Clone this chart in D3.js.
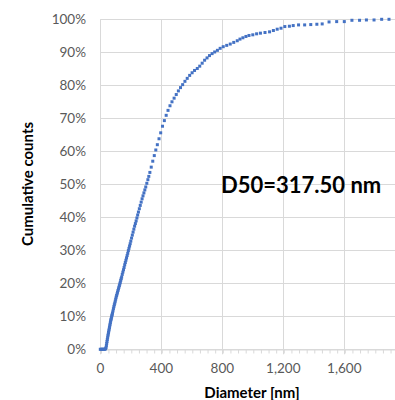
<!DOCTYPE html>
<html>
<head>
<meta charset="utf-8">
<script src="https://cdn.jsdelivr.net/npm/d3@7.9.0/dist/d3.min.js"></script>
<style>
  body { margin: 0; background: #fff; }
  svg { display: block; }
  text { font-family: Lato, "Liberation Sans", sans-serif; }
</style>
</head>
<body>
<svg id="chart" width="395" height="400"></svg>
<script>
// diameter [nm] and cumulative share [%]
const diameters = [
  0, 5, 10, 15, 20, 25, 30, 35, 38, 40, 42, 44, 46, 48, 50, 52, 54, 56, 58, 60,
  62, 64, 66, 68, 70, 72, 74, 76, 78, 80, 83, 86, 89, 92, 95, 98, 101, 104, 107, 110,
  113, 116, 119, 122, 125, 128, 131, 134, 137, 140, 144, 148, 152, 156, 160, 164, 168, 172, 176, 180,
  184, 188, 192, 196, 200, 205, 210, 215, 220, 225, 230, 235, 240, 245, 250, 256, 262, 268, 274, 280,
  286, 292, 298, 305, 312, 318, 325, 334, 344, 354, 364, 374, 385, 396, 408, 420, 432,
  444, 457, 470, 484, 498, 512, 526, 540, 555, 570, 586, 602, 618, 636, 652, 668, 684,
  700, 716, 733, 750, 768, 786, 806, 829, 852, 875, 898, 916, 935, 955, 975, 1000, 1025, 1050, 1080, 1110,
  1135, 1160, 1185, 1210, 1240, 1265, 1300, 1340, 1380, 1420, 1455, 1500, 1550, 1600, 1650, 1700, 1745, 1795, 1845, 1893
];
const cumulative = [
  0, 0, 0, 0, 0, 0, 0, 0.2, 0.6, 1.2, 1.8, 2.4, 3.0, 3.5, 4.1, 4.6, 5.1, 5.6, 6.1, 6.6,
  7.1, 7.6, 8.1, 8.6, 9.0, 9.4, 9.8, 10.2, 10.6, 11.0, 11.6, 12.3, 12.9, 13.5, 14.0, 14.6, 15.2, 15.8, 16.3, 16.8,
  17.3, 17.8, 18.3, 18.8, 19.3, 19.8, 20.3, 20.9, 21.4, 21.9, 22.7, 23.4, 24.1, 24.8, 25.6, 26.3, 27.0, 27.7, 28.4, 29.1,
  29.9, 30.6, 31.3, 32.0, 32.8, 33.7, 34.6, 35.5, 36.4, 37.3, 38.1, 38.9, 39.8, 40.7, 41.6, 42.6, 43.6, 44.6, 45.6, 46.5,
  47.4, 48.3, 49.2, 50.3, 51.4, 52.4, 53.6, 55.2, 57.0, 58.7, 60.4, 62.0, 63.8, 65.6, 67.6, 69.3, 70.9,
  72.4, 73.8, 75.0, 76.1, 77.2, 78.3, 79.3, 80.2, 81.2, 82.1, 83.0, 83.8, 84.5, 85.1, 85.8, 86.7, 87.6,
  88.3, 89.0, 89.6, 90.1, 90.6, 91.2, 91.7, 92.1, 92.5, 93.0, 93.5, 94.0, 94.4, 94.8, 95.1, 95.3, 95.6, 95.8, 96.0, 96.2,
  96.6, 97.0, 97.3, 97.8, 97.9, 98.1, 98.3, 98.3, 98.4, 98.5, 98.6, 99.2, 99.3, 99.3, 99.7, 99.7, 99.8, 99.8, 100, 100
];
const xTicks = [0, 400, 800, 1200, 1600];
const yTicks = [0, 10, 20, 30, 40, 50, 60, 70, 80, 90, 100];
const d50Label = 'D50=317.50 nm';

const points = diameters.map((d, i) => ({ d: d, c: cumulative[i] }));

const svg = d3.select('#chart');
const x = d3.scaleLinear().domain([0, 2000]).range([100.3, 405.3]);
const y = d3.scaleLinear().domain([0, 100]).range([349.3, 19.3]);
const grid = '#d9d9d9';

// horizontal gridlines
svg.append('g')
  .selectAll('line')
  .data(yTicks)
  .join('line')
  .attr('x1', x(0)).attr('x2', 395)
  .attr('y1', d => Math.round(y(d)) + 0.5)
  .attr('y2', d => Math.round(y(d)) + 0.5)
  .attr('stroke', grid);

// vertical gridlines (incl. the left edge)
svg.append('g')
  .selectAll('line')
  .data(xTicks)
  .join('line')
  .attr('x1', d => Math.round(x(d)) + 0.5)
  .attr('x2', d => Math.round(x(d)) + 0.5)
  .attr('y1', y(100)).attr('y2', y(0) + 5)
  .attr('stroke', grid);

// bottom axis with minor ticks every 50
const xAxis = d3.axisBottom(x)
  .tickValues(d3.range(0, 2001, 50))
  .tickSize(4)
  .tickFormat('');
const gx = svg.append('g')
  .attr('transform', `translate(0.5,${Math.round(y(0)) + 0.5})`)
  .call(xAxis);
gx.select('.domain').attr('stroke', grid);
gx.selectAll('.tick line').attr('stroke', grid);

// x tick labels
svg.append('g')
  .selectAll('text')
  .data(xTicks)
  .join('text')
  .attr('x', d => x(d))
  .attr('y', 373)
  .attr('text-anchor', 'middle')
  .attr('font-size', 13.5)
  .attr('fill', '#595959')
  .text(d3.format(','));

// y tick labels
svg.append('g')
  .selectAll('text')
  .data(yTicks)
  .join('text')
  .attr('x', 86)
  .attr('y', d => y(d))
  .attr('dy', '0.35em')
  .attr('text-anchor', 'end')
  .attr('font-size', 13.5)
  .attr('fill', '#595959')
  .text(d => d + '%');

// markers
svg.append('g')
  .selectAll('rect')
  .data(points)
  .join('rect')
  .attr('x', d => x(d.d) - 1.5)
  .attr('y', d => y(d.c) - 1.5)
  .attr('width', 3)
  .attr('height', 3)
  .attr('fill', '#4472c4');

// axis titles
svg.append('text')
  .attr('transform', 'translate(33,184) rotate(-90)')
  .attr('text-anchor', 'middle')
  .attr('font-size', 15)
  .attr('font-weight', 'bold')
  .attr('fill', '#000')
  .text('Cumulative counts');

svg.append('text')
  .attr('x', 252)
  .attr('y', 398)
  .attr('text-anchor', 'middle')
  .attr('font-size', 15)
  .attr('font-weight', 'bold')
  .attr('fill', '#000')
  .text('Diameter [nm]');

svg.append('text')
  .attr('x', 221)
  .attr('y', 192.5)
  .attr('font-size', 22)
  .attr('font-weight', 'bold')
  .attr('fill', '#000')
  .text(d50Label);
</script>
</body>
</html>
